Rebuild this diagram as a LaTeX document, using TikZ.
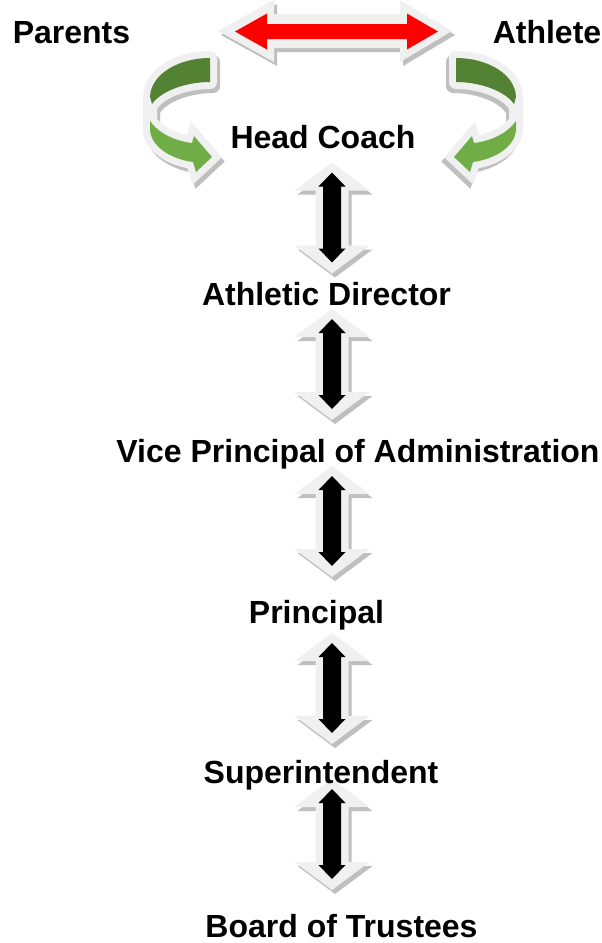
\documentclass[tikz,border=0pt]{standalone}
\usepackage{fontspec}
\setmainfont{Liberation Sans}
\definecolor{olc}{HTML}{F0F0F0}
\definecolor{shc}{HTML}{BFBFBF}
\definecolor{dkgreen}{HTML}{548235}
\definecolor{ltgreen}{HTML}{70AD47}
\definecolor{redar}{HTML}{FF0000}
\begin{document}
\begin{tikzpicture}[x=1pt,y=-1pt,
  lbl/.style={font=\bfseries\fontsize{32}{36}\selectfont, anchor=base, inner sep=0pt},
  vdarrow/.pic={
    \fill[shc] (3,-51) -- (40.5,-23) -- (19.5,-23) -- (19.5,32) -- (40.5,32) -- (3,60) -- (-34.5,32) -- (-13.5,32) -- (-13.5,-23) -- (-34.5,-23) -- cycle;
    \fill[olc] (0,-55) -- (37.5,-27) -- (16.5,-27) -- (16.5,28) -- (37.5,28) -- (0,56) -- (-37.5,28) -- (-16.5,28) -- (-16.5,-27) -- (-37.5,-27) -- cycle;
    \fill[black] (0,-45) -- (13.5,-31) -- (9,-31) -- (9,31) -- (13.5,31) -- (0,45) -- (-13.5,31) -- (-9,31) -- (-9,-31) -- (-13.5,-31) -- cycle;
  },
  curvearrow/.pic={
    % shadows
    \begin{scope}[shift={(3,4)}]
      \filldraw[shc, line width=14pt, line join=round]
        (210,58) .. controls (180,58) and (151,73) .. (150,97) -- (152,104)
        .. controls (161,91) and (186,82) .. (210,82) -- cycle;
      \filldraw[shc, line width=14pt, line join=miter]
        (150,121) .. controls (158,133) and (175,141) .. (192,143) -- (194,136) -- (212,157)
        -- (196,172) -- (193,162) .. controls (170,159) and (151,146) .. (150,130) -- cycle;
      \fill[shc] (143,95) -- (157,100) -- (157,125) -- (143,130) -- cycle;
    \end{scope}
    % outlines
    \filldraw[olc, line width=14pt, line join=round]
      (210,58) .. controls (180,58) and (151,73) .. (150,97) -- (152,104)
      .. controls (161,91) and (186,82) .. (210,82) -- cycle;
    \fill[olc] (143,95) -- (157,100) -- (157,125) -- (143,130) -- cycle;
    \filldraw[olc, line width=14pt, line join=miter]
      (150,121) .. controls (158,133) and (175,141) .. (192,143) -- (194,136) -- (212,157)
      -- (196,172) -- (193,162) .. controls (170,159) and (151,146) .. (150,130) -- cycle;
    % fills
    \fill[dkgreen]
      (210,58) .. controls (180,58) and (151,73) .. (150,97) -- (152,104)
      .. controls (161,91) and (186,82) .. (210,82) -- cycle;
    \fill[ltgreen]
      (150,121) .. controls (158,133) and (175,141) .. (192,143) -- (194,136) -- (212,157)
      -- (196,172) -- (193,162) .. controls (170,159) and (151,146) .. (150,130) -- cycle;
  }
]
\fill[white] (0,0) rectangle (602,943);
\useasboundingbox (0,0) rectangle (602,943);

% red double arrow
\fill[shc] (221,35) -- (277,4) -- (277,18) -- (403,18) -- (403,4) -- (455,35) -- (403,66) -- (403,52) -- (277,52) -- (277,66) -- cycle;
\fill[olc] (218,31) -- (274,0) -- (274,14) -- (400,14) -- (400,0) -- (452,31) -- (400,62) -- (400,48) -- (274,48) -- (274,62) -- cycle;
\fill[redar] (235,31.5) -- (267,13.5) -- (267,24) -- (407,24) -- (407,13.5) -- (438,31.5) -- (407,49.5) -- (407,39) -- (267,39) -- (267,49.5) -- cycle;

% curved green arrows
\pic at (0,0) {curvearrow};
\pic[xscale=-1] at (666,0) {curvearrow};

% vertical double arrows
\pic at (332,217.5) {vdarrow};
\pic at (332,364) {vdarrow};
\pic at (332,521) {vdarrow};
\pic at (332,688) {vdarrow};
\pic at (332,834) {vdarrow};

% labels
\node[lbl] (parents) at (71.5,43.5) {Parents};
\node[lbl] (athlete) at (547,43.5) {Athlete};
\node[lbl] (hc) at (323,148) {Head Coach};
\node[lbl] (ad) at (326.5,305) {Athletic Director};
\node[lbl] (vp) at (358,462) {Vice Principal of Administration};
\node[lbl] (pr) at (316.5,623.5) {Principal};
\node[lbl] (su) at (321,783) {Superintendent};
\node[lbl] (bt) at (341.5,937.5) {Board of Trustees};
\end{tikzpicture}
\end{document}
